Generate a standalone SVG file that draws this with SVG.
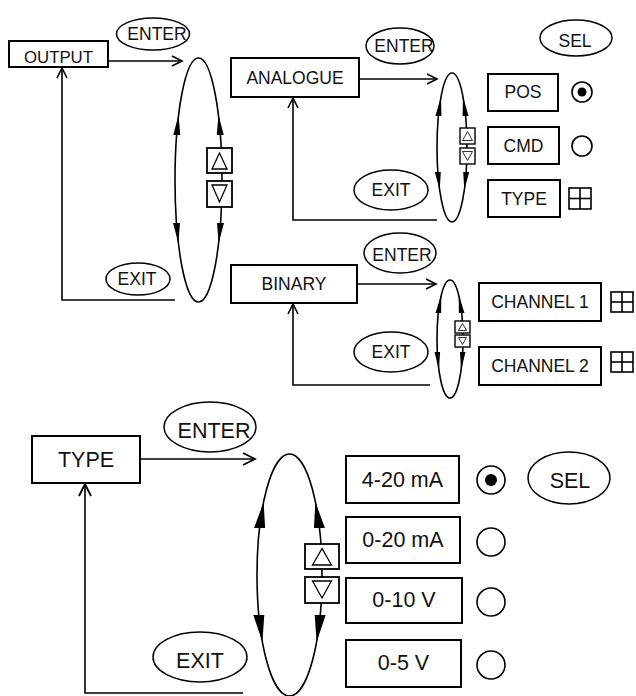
<svg xmlns="http://www.w3.org/2000/svg" width="636" height="696" viewBox="0 0 636 696">
<style>
text{font-family:"Liberation Sans",Arial,sans-serif;fill:#111;text-anchor:middle}
.t{font-size:17.5px}
.b{font-size:21.5px}
.box{fill:#fff;stroke:#000;stroke-width:2}
.ov{fill:#fff;stroke:#000;stroke-width:1.5}
.ring{fill:none;stroke:#000;stroke-width:1.6}
.ln{fill:none;stroke:#000;stroke-width:1.6}
.btn{fill:#fff;stroke:#000;stroke-width:1.8}
.btns{fill:#fff;stroke:#000;stroke-width:1.4}
.tri{fill:#fff;stroke:#000;stroke-width:1.3}
.tris{fill:#fff;stroke:#000;stroke-width:0.8}
.ah{fill:#000;stroke:none}
.rad{fill:#fff;stroke:#000;stroke-width:1.6}
.grid{fill:#fff;stroke:#000;stroke-width:1.6}
</style>
<defs>
<marker id="oa" markerUnits="userSpaceOnUse" markerWidth="14" markerHeight="14" refX="11" refY="6" orient="auto">
<path d="M1,1 L11,6 L1,11" fill="none" stroke="#000" stroke-width="1.6"/>
</marker>
<marker id="ob" markerUnits="userSpaceOnUse" markerWidth="16" markerHeight="16" refX="13" refY="7" orient="auto">
<path d="M1,1 L13,7 L1,13" fill="none" stroke="#000" stroke-width="1.8"/>
</marker>
</defs>

<g id="connectors">
<line class="ln" x1="108" y1="61" x2="182" y2="61" marker-end="url(#oa)"/>
<polyline class="ln" points="175,300 62,300 62,68" marker-end="url(#oa)"/>
<line class="ln" x1="359" y1="79" x2="437" y2="79" marker-end="url(#oa)"/>
<polyline class="ln" points="437,220 293,220 293,98" marker-end="url(#oa)"/>
<line class="ln" x1="357" y1="284" x2="436" y2="284" marker-end="url(#oa)"/>
<polyline class="ln" points="430,385 293,385 293,304" marker-end="url(#oa)"/>
<line class="ln" x1="140" y1="459" x2="255" y2="459" marker-end="url(#ob)"/>
<polyline class="ln" points="243,693 85,693 85,484" marker-end="url(#ob)"/>
</g>

<g id="output-node">
<rect class="box" x="9" y="41" width="99" height="26"/>
<text class="t" x="58.5" y="63" style="font-size:16.8px">OUTPUT</text>
</g>
<g id="enter-1">
<ellipse class="ov" cx="153" cy="34" rx="36.5" ry="16"/>
<text class="t" x="157" y="40">ENTER</text>
</g>
<g id="exit-1">
<ellipse class="ov" cx="138" cy="279" rx="32" ry="16"/>
<text class="t" x="137" y="285">EXIT</text>
</g>
<g id="scroll-1">
<ellipse class="ring" cx="198.5" cy="180" rx="23.5" ry="122"/>
<polygon class="ah" points="178.6,115 173.2,135 180.2,135"/>
<polygon class="ah" points="218.4,115 216.8,135 223.8,135"/>
<polygon class="ah" points="178.4,243 173,223 180,223"/>
<polygon class="ah" points="218.6,243 217,223 224,223"/>
<rect class="btn" x="207" y="148" width="25" height="25"/>
<polygon class="tri" points="219.5,153 212,169 227,169"/>
<rect class="btn" x="207" y="181" width="25" height="26"/>
<polygon class="tri" points="212,185 227,185 219.5,202"/>
</g>

<g id="analogue-node">
<rect class="box" x="231" y="58" width="128" height="39"/>
<text class="t" x="295" y="83.5">ANALOGUE</text>
</g>
<g id="enter-2">
<ellipse class="ov" cx="400" cy="46" rx="34" ry="18"/>
<text class="t" x="404" y="52">ENTER</text>
</g>
<g id="exit-2">
<ellipse class="ov" cx="391" cy="190" rx="37" ry="20"/>
<text class="t" x="391" y="196">EXIT</text>
</g>
<g id="sel-1">
<ellipse class="ov" cx="576" cy="38" rx="36" ry="18"/>
<text class="t" x="575" y="47">SEL</text>
</g>
<g id="scroll-2">
<ellipse class="ring" cx="452" cy="147.5" rx="15" ry="74.5"/>
<polygon class="ah" points="441,97 435.4,116 441.4,116"/>
<polygon class="ah" points="463,97 462.6,116 468.6,116"/>
<polygon class="ah" points="439.7,190 434.8,172 440.8,172"/>
<polygon class="ah" points="464.3,190 463.2,172 469.2,172"/>
<rect class="btns" x="460" y="128" width="15" height="16"/>
<polygon class="tris" points="467.5,131.5 462.5,140.5 472.5,140.5"/>
<rect class="btns" x="460" y="148" width="15" height="16"/>
<polygon class="tris" points="462.5,151.5 472.5,151.5 467.5,160.5"/>
</g>
<g id="pos-node">
<rect class="box" x="488" y="74" width="70" height="37"/>
<text class="t" x="523" y="98">POS</text>
<circle class="rad" cx="582" cy="92" r="10"/>
<circle cx="582" cy="92" r="4.5" fill="#000"/>
</g>
<g id="cmd-node">
<rect class="box" x="488" y="127" width="71" height="37"/>
<text class="t" x="523.5" y="152">CMD</text>
<circle class="rad" cx="582" cy="146" r="10"/>
</g>
<g id="type-node-1">
<rect class="box" x="488" y="180" width="72" height="37"/>
<text class="t" x="524" y="205">TYPE</text>
<rect class="grid" x="569" y="188" width="22" height="21"/>
<line class="ln" x1="580" y1="188" x2="580" y2="209"/>
<line class="ln" x1="569" y1="198.5" x2="591" y2="198.5"/>
</g>

<g id="binary-node">
<rect class="box" x="231" y="265" width="126" height="38"/>
<text class="t" x="294" y="289.5">BINARY</text>
</g>
<g id="enter-3">
<ellipse class="ov" cx="400" cy="253" rx="36" ry="20"/>
<text class="t" x="402" y="261">ENTER</text>
</g>
<g id="exit-3">
<ellipse class="ov" cx="391" cy="352" rx="37" ry="20"/>
<text class="t" x="391" y="358">EXIT</text>
</g>
<g id="scroll-3">
<ellipse class="ring" cx="450" cy="339" rx="13" ry="59"/>
<polygon class="ah" points="441.3,295 435.5,313 441.1,313"/>
<polygon class="ah" points="458.7,295 458.9,313 464.5,313"/>
<polygon class="ah" points="438.9,370 434.5,352 440.1,352"/>
<polygon class="ah" points="461.1,370 459.9,352 465.5,352"/>
<rect class="btns" x="455" y="321" width="15" height="12"/>
<polygon class="tris" points="462.5,323.5 458.5,330.5 466.5,330.5"/>
<rect class="btns" x="455" y="335" width="15" height="12"/>
<polygon class="tris" points="458.5,337.5 466.5,337.5 462.5,344.5"/>
</g>
<g id="channel-1">
<rect class="box" x="479" y="283" width="122" height="38"/>
<text class="t" x="540" y="307.5">CHANNEL 1</text>
<rect class="grid" x="611" y="292" width="22" height="20"/>
<line class="ln" x1="622" y1="292" x2="622" y2="312"/>
<line class="ln" x1="611" y1="302" x2="633" y2="302"/>
</g>
<g id="channel-2">
<rect class="box" x="479" y="347" width="122" height="38"/>
<text class="t" x="540" y="371.5">CHANNEL 2</text>
<rect class="grid" x="611" y="352" width="22" height="20"/>
<line class="ln" x1="622" y1="352" x2="622" y2="372"/>
<line class="ln" x1="611" y1="362" x2="633" y2="362"/>
</g>

<g id="type-node-2">
<rect class="box" x="32" y="436" width="108" height="47"/>
<text class="b" x="86" y="467">TYPE</text>
</g>
<g id="enter-4">
<ellipse class="ov" cx="210" cy="427" rx="46" ry="25"/>
<text class="b" x="214" y="438">ENTER</text>
</g>
<g id="exit-4">
<ellipse class="ov" cx="200" cy="657" rx="47" ry="25"/>
<text class="b" x="200" y="668">EXIT</text>
</g>
<g id="scroll-4">
<ellipse class="ring" cx="289.5" cy="575" rx="32.5" ry="121"/>
<polygon class="ah" points="263.6,502 254.1,528 265.1,528"/>
<polygon class="ah" points="315.4,502 313.9,528 324.9,528"/>
<polygon class="ah" points="262.4,642 253.3,615 264.3,615"/>
<polygon class="ah" points="316.6,642 314.7,615 325.7,615"/>
<rect class="btn" x="305" y="544" width="34" height="25"/>
<polygon class="tri" points="322,548.5 312.5,565 331.5,565"/>
<rect class="btn" x="305" y="577" width="34" height="26"/>
<polygon class="tri" points="312.5,581 331.5,581 322,598"/>
</g>
<g id="opt-4-20">
<rect class="box" x="346" y="456" width="113" height="47"/>
<text class="b" x="402.5" y="487">4-20 mA</text>
<circle class="rad" cx="491" cy="480" r="14"/>
<circle cx="491" cy="480" r="6" fill="#000"/>
</g>
<g id="opt-0-20">
<rect class="box" x="346" y="517" width="114" height="46"/>
<text class="b" x="403" y="547">0-20 mA</text>
<circle class="rad" cx="491" cy="542" r="14"/>
</g>
<g id="opt-0-10">
<rect class="box" x="346" y="578" width="116" height="45"/>
<text class="b" x="404" y="607">0-10 V</text>
<circle class="rad" cx="491" cy="602" r="14"/>
</g>
<g id="opt-0-5">
<rect class="box" x="346" y="640" width="115" height="47"/>
<text class="b" x="403.5" y="670">0-5 V</text>
<circle class="rad" cx="491" cy="665" r="14"/>
</g>
<g id="sel-2">
<ellipse class="ov" cx="569" cy="478" rx="41" ry="26"/>
<text class="b" x="570" y="488">SEL</text>
</g>
</svg>
